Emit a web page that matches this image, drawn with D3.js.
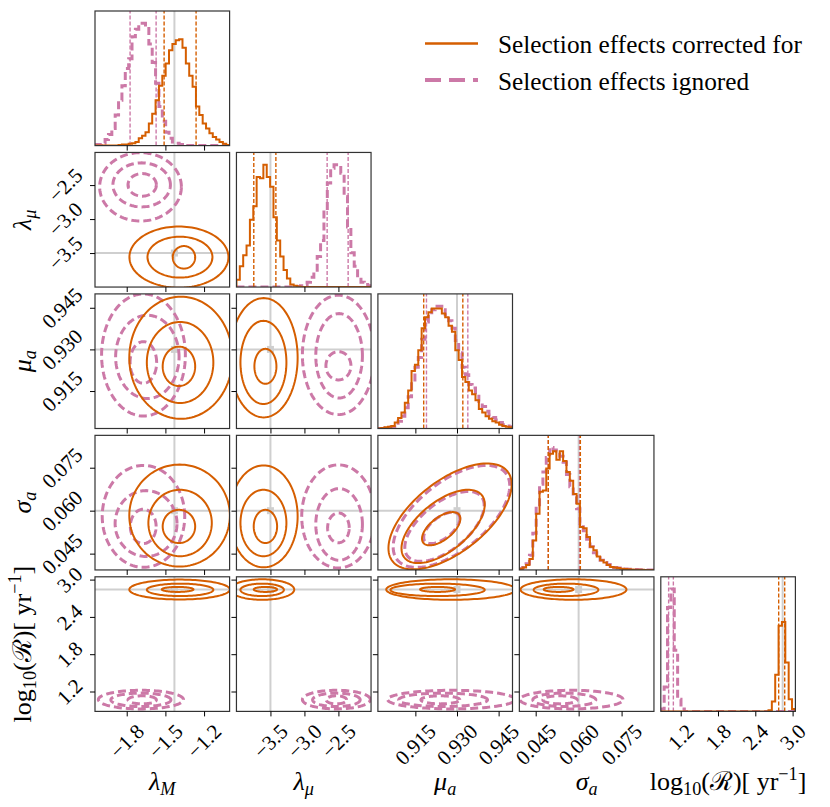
<!DOCTYPE html>
<html>
<head>
<meta charset="utf-8">
<script src="https://cdn.jsdelivr.net/npm/d3@7"></script>
<style>
  body { margin: 0; background: #fff; }
  svg { display: block; }
</style>
</head>
<body>
<svg id="chart" width="830" height="807"></svg>
<script>
// parameters: lambda_M, lambda_mu, mu_a, sigma_a, log10(R)
const paramDomains = [[-2.046, -1.002], [-4.0, -2.02], [0.9015, 0.950], [0.0393, 0.0863], [0.88, 3.045]];
const tickValues = [[-1.8, -1.5, -1.2], [-3.5, -3.0, -2.5], [0.915, 0.930, 0.945], [0.045, 0.060, 0.075], [1.2, 1.8, 2.4, 3.0]];
const tickFormats = [".1f", ".1f", ".3f", ".3f", ".1f"];
const truths = [-1.43, -3.5, 0.93, 0.06, 2.84];

// 1D posteriors, 40 bins over each axis range (heights)
const corrHist = [
  [0, 0, 0, 0, 0, 0, 0, 0.005, 0.01, 0.01, 0.015, 0.02, 0.03, 0.06, 0.08, 0.11, 0.18, 0.26, 0.37, 0.49,
   0.57, 0.67, 0.78, 0.83, 0.86, 0.87, 0.80, 0.67, 0.57, 0.48, 0.32, 0.25, 0.18, 0.14, 0.10, 0.07, 0.05, 0.03, 0.015, 0.005],
  [0.06, 0.17, 0.26, 0.34, 0.55, 0.66, 0.90, 0.89, 1.0, 0.90, 0.82, 0.57, 0.38, 0.25, 0.14, 0.07, 0.02, 0.01, 0.005, 0,
   0, 0, 0, 0, 0, 0, 0, 0, 0, 0, 0, 0, 0, 0, 0, 0, 0, 0, 0, 0],
  [0, 0.005, 0.01, 0.015, 0.02, 0.05, 0.085, 0.13, 0.21, 0.31, 0.47, 0.52, 0.64, 0.82, 0.91, 0.95, 0.98, 0.98, 0.98, 0.94,
   0.91, 0.84, 0.79, 0.64, 0.56, 0.42, 0.38, 0.31, 0.28, 0.23, 0.16, 0.13, 0.10, 0.08, 0.06, 0.05, 0.03, 0.02, 0.015, 0.01],
  [0.01, 0.02, 0.04, 0.09, 0.24, 0.46, 0.64, 0.65, 0.83, 0.95, 0.97, 0.90, 0.97, 0.89, 0.80, 0.73, 0.62, 0.54, 0.35, 0.34,
   0.27, 0.19, 0.16, 0.11, 0.08, 0.06, 0.04, 0.025, 0.02, 0.015, 0.01, 0.008, 0.005, 0.003, 0.002, 0.002, 0.001, 0, 0, 0],
  [0, 0, 0, 0, 0, 0, 0, 0, 0, 0, 0, 0, 0, 0, 0, 0, 0, 0, 0, 0,
   0, 0, 0, 0, 0, 0, 0, 0, 0, 0, 0, 0, 0.01, 0.08, 0.30, 0.70, 0.73, 0.40, 0.10, 0.02]
];
const ignHist = [
  [0.01, 0.01, 0.02, 0.05, 0.09, 0.14, 0.25, 0.37, 0.49, 0.63, 0.71, 0.89, 0.95, 1.0, 1.0, 0.97, 0.83, 0.68, 0.51, 0.32,
   0.20, 0.11, 0.06, 0.03, 0.02, 0.01, 0.005, 0, 0, 0, 0, 0, 0, 0, 0, 0, 0, 0, 0, 0],
  [0, 0, 0, 0, 0, 0, 0, 0, 0, 0, 0, 0, 0, 0, 0, 0, 0, 0, 0.005, 0.01,
   0.02, 0.04, 0.08, 0.12, 0.25, 0.38, 0.63, 0.85, 0.97, 1.0, 1.0, 0.93, 0.74, 0.49, 0.28, 0.17, 0.08, 0.04, 0.02, 0.01],
  [0, 0, 0.005, 0.01, 0.015, 0.03, 0.06, 0.10, 0.17, 0.26, 0.38, 0.50, 0.58, 0.73, 0.87, 0.93, 0.97, 1.0, 1.0, 0.97,
   0.93, 0.88, 0.82, 0.72, 0.62, 0.50, 0.44, 0.36, 0.33, 0.28, 0.22, 0.18, 0.14, 0.11, 0.09, 0.07, 0.05, 0.03, 0.02, 0.015],
  [0.01, 0.02, 0.05, 0.12, 0.30, 0.52, 0.70, 0.80, 0.92, 1.0, 0.98, 0.97, 0.93, 0.88, 0.78, 0.68, 0.60, 0.50, 0.38, 0.32,
   0.25, 0.19, 0.14, 0.10, 0.08, 0.06, 0.045, 0.03, 0.02, 0.015, 0.01, 0.008, 0.006, 0.004, 0.003, 0.002, 0.001, 0, 0, 0],
  [0.02, 0.20, 0.85, 1.0, 0.50, 0.10, 0.02, 0, 0, 0, 0, 0, 0, 0, 0, 0, 0, 0, 0, 0,
   0, 0, 0, 0, 0, 0, 0, 0, 0, 0, 0, 0, 0, 0, 0, 0, 0, 0, 0, 0]
];

// 16% / 84% quantiles
const corrQuantiles = [[-1.51, -1.262], [-3.745, -3.42], [0.918, 0.9321], [0.0494, 0.0606], [2.776, 2.873]];
const ignQuantiles = [[-1.774, -1.572], [-2.666, -2.357], [0.919, 0.9339], [0.0494, 0.0603], [1.006, 1.082]];

// 2D contours: [x param, y param, centre x, centre y, half-width x, half-width y], inner to outer
const corrContours = [
  [0, 1, -1.356, -3.563, 0.087, 0.166], [0, 1, -1.387, -3.560, 0.252, 0.301], [0, 1, -1.395, -3.560, 0.384, 0.450],
  [0, 2, -1.395, 0.9239, 0.126, 0.0071], [0, 2, -1.386, 0.9253, 0.258, 0.0146], [0, 2, -1.380, 0.9270, 0.400, 0.0220],
  [0, 3, -1.395, 0.0545, 0.126, 0.0058], [0, 3, -1.386, 0.0557, 0.246, 0.0116], [0, 3, -1.390, 0.0583, 0.390, 0.0178],
  [0, 4, -1.405, 2.842, 0.123, 0.040], [0, 4, -1.386, 2.835, 0.258, 0.100], [0, 4, -1.390, 2.840, 0.390, 0.160],
  [1, 2, -3.574, 0.9239, 0.162, 0.0063], [1, 2, -3.603, 0.9253, 0.338, 0.0150], [1, 2, -3.600, 0.9270, 0.500, 0.0215],
  [1, 3, -3.574, 0.0545, 0.172, 0.0058], [1, 3, -3.603, 0.0557, 0.338, 0.0116], [1, 3, -3.600, 0.0580, 0.500, 0.0178],
  [1, 4, -3.574, 2.842, 0.172, 0.040], [1, 4, -3.622, 2.835, 0.320, 0.100], [1, 4, -3.620, 2.840, 0.470, 0.165],
  [2, 3, 0.9243, 0.0537, 0.0069, 0.0058], [2, 3, 0.9250, 0.0545, 0.0150, 0.0128], [2, 3, 0.9275, 0.0580, 0.0222, 0.0185],
  [2, 4, 0.9230, 2.842, 0.0063, 0.040], [2, 4, 0.9230, 2.835, 0.0170, 0.100], [2, 4, 0.9278, 2.840, 0.0233, 0.165],
  [3, 4, 0.0530, 2.842, 0.0052, 0.040], [3, 4, 0.0556, 2.835, 0.0113, 0.100], [3, 4, 0.0582, 2.840, 0.0185, 0.165]
];
const ignContours = [
  [0, 1, -1.680, -2.497, 0.110, 0.166], [0, 1, -1.684, -2.497, 0.223, 0.324], [0, 1, -1.693, -2.526, 0.317, 0.503],
  [0, 2, -1.671, 0.9253, 0.103, 0.0075], [0, 2, -1.640, 0.9273, 0.246, 0.0150], [0, 2, -1.670, 0.9280, 0.325, 0.0220],
  [0, 3, -1.672, 0.0545, 0.100, 0.0060], [0, 3, -1.650, 0.0555, 0.240, 0.0115], [0, 3, -1.670, 0.0580, 0.320, 0.0178],
  [0, 4, -1.680, 1.066, 0.110, 0.065], [0, 4, -1.690, 1.066, 0.233, 0.108], [0, 4, -1.690, 1.070, 0.330, 0.150],
  [1, 2, -2.500, 0.9241, 0.184, 0.0051], [1, 2, -2.490, 0.9277, 0.343, 0.0152], [1, 2, -2.500, 0.9280, 0.530, 0.0215],
  [1, 3, -2.500, 0.0540, 0.159, 0.0052], [1, 3, -2.490, 0.0552, 0.343, 0.0125], [1, 3, -2.500, 0.0580, 0.540, 0.0180],
  [1, 4, -2.530, 1.066, 0.150, 0.065], [1, 4, -2.530, 1.066, 0.350, 0.108], [1, 4, -2.530, 1.070, 0.500, 0.150],
  [2, 3, 0.9245, 0.0540, 0.0065, 0.0055], [2, 3, 0.9255, 0.0545, 0.0143, 0.0122], [2, 3, 0.9280, 0.0580, 0.0210, 0.0178],
  [2, 4, 0.9240, 1.066, 0.0070, 0.065], [2, 4, 0.9250, 1.066, 0.0160, 0.108], [2, 4, 0.9280, 1.070, 0.0230, 0.150],
  [3, 4, 0.0535, 1.066, 0.0060, 0.065], [3, 4, 0.0550, 1.066, 0.0110, 0.108], [3, 4, 0.0575, 1.070, 0.0180, 0.150]
];
// correlation of the tilted pair (mu_a, sigma_a)
const pairRho = [[2, 3, 0.6]];

const legendLabels = ["Selection effects corrected for", "Selection effects ignored"];
// label pieces: [text, style]
const axisLabels = [
  [["λ", "i"], ["M", "isub"]],
  [["λ", "i"], ["μ", "isub"]],
  [["μ", "i"], ["a", "isub"]],
  [["σ", "i"], ["a", "isub"]],
  [["log", ""], ["10", "sub"], ["(ℛ)[ yr", ""], ["−1", "sup"], ["]", ""]]
];

const ORANGE = "#d55e00", PINK = "#cc79a7", GREY = "#cfcfcf";
const SERIF = "Liberation Serif";
const X0 = 95, Y0 = 11, STEP = 141.45, SIZE = 134.6;
const NB = 40;

const svg = d3.select("#chart");
const defs = svg.append("defs");

const xs = paramDomains.map((d, j) => d3.scaleLinear().domain(d).range([X0 + j * STEP, X0 + j * STEP + SIZE]));
const ys = paramDomains.map((d, i) => d3.scaleLinear().domain(d).range([Y0 + i * STEP + SIZE, Y0 + i * STEP]));

const styles = {
  corr: { color: ORANGE, width: 2, dash: null },
  ign: { color: PINK, width: 3, dash: "8,4" }
};

function rhoFor(j, i) {
  const r = pairRho.find(p => p[0] === j && p[1] === i);
  return r ? r[2] : 0;
}

function addText(sel) {
  return sel.append("text").attr("font-family", SERIF).attr("fill", "#000");
}

function drawHist(g, j) {
  const x = xs[j];
  const lo = paramDomains[j][0], hi = paramDomains[j][1];
  const edges = d3.range(NB + 1).map(k => lo + (hi - lo) * k / NB);
  const ymax = 1.1 * Math.max(d3.max(corrHist[j]), d3.max(ignHist[j]));
  const y = d3.scaleLinear().domain([0, ymax]).range([Y0 + j * STEP + SIZE, Y0 + j * STEP]);

  g.append("line")
    .attr("x1", x(truths[j])).attr("x2", x(truths[j]))
    .attr("y1", y.range()[0]).attr("y2", y.range()[1])
    .attr("stroke", GREY).attr("stroke-width", 2);

  const line = d3.line().x(d => x(d[0])).y(d => y(d[1])).curve(d3.curveStepAfter);
  [["ign", ignHist[j], ignQuantiles[j]], ["corr", corrHist[j], corrQuantiles[j]]].forEach(([key, h, q]) => {
    const st = styles[key];
    const pts = [[edges[0], 0]];
    h.forEach((v, k) => pts.push([edges[k], v]));
    pts.push([edges[NB], h[NB - 1]]);
    pts.push([edges[NB], 0]);
    g.append("path")
      .attr("d", line(pts))
      .attr("fill", "none")
      .attr("stroke", st.color)
      .attr("stroke-width", st.width)
      .attr("stroke-dasharray", st.dash);
    q.forEach(v => {
      g.append("line")
        .attr("x1", x(v)).attr("x2", x(v))
        .attr("y1", y.range()[0]).attr("y2", y.range()[1])
        .attr("stroke", st.color).attr("stroke-width", 1.4)
        .attr("stroke-dasharray", "4,2");
    });
  });
}

function drawPair(g, j, i) {
  const x = xs[j], y = ys[i];
  // truth lines and marker
  g.append("line").attr("x1", x(truths[j])).attr("x2", x(truths[j]))
    .attr("y1", y.range()[0]).attr("y2", y.range()[1])
    .attr("stroke", GREY).attr("stroke-width", 2);
  g.append("line").attr("y1", y(truths[i])).attr("y2", y(truths[i]))
    .attr("x1", x.range()[0]).attr("x2", x.range()[1])
    .attr("stroke", GREY).attr("stroke-width", 2);
  g.append("rect")
    .attr("x", x(truths[j]) - 3.5).attr("y", y(truths[i]) - 3.5)
    .attr("width", 7).attr("height", 7).attr("fill", GREY);

  const rho = rhoFor(j, i);
  const ts = d3.range(0, 2 * Math.PI, Math.PI / 60);
  const line = d3.line().curve(d3.curveLinearClosed);
  [["ign", ignContours], ["corr", corrContours]].forEach(([key, table]) => {
    const st = styles[key];
    table.filter(r => r[0] === j && r[1] === i).forEach(r => {
      const [, , cx, cy, sx, sy] = r;
      const pts = ts.map(t => [
        x(cx + sx * Math.cos(t)),
        y(cy + sy * (rho * Math.cos(t) + Math.sqrt(1 - rho * rho) * Math.sin(t)))
      ]);
      g.append("path")
        .attr("d", line(pts))
        .attr("fill", "none")
        .attr("stroke", st.color)
        .attr("stroke-width", st.width)
        .attr("stroke-dasharray", st.dash)
        .attr("stroke-linejoin", "round");
    });
  });
}

// rotated (45 deg) tick label, bounding box centred on the tick
function rotatedLabel(txt, pos, side, edge) {
  const fs = 21;
  const t = addText(svg)
    .attr("font-size", fs)
    .attr("text-anchor", "middle")
    .attr("dy", "0.35em")
    .text(txt);
  const L = t.node().getComputedTextLength();
  const E = (L + 0.7 * fs) / Math.SQRT2;
  let tx, ty;
  if (side === "bottom") { tx = pos; ty = edge + 11 + E / 2; }
  else { tx = edge - 11 - E / 2; ty = pos; }
  t.attr("transform", `translate(${tx},${ty}) rotate(-45)`);
}

function mathLabel(sel, pieces) {
  pieces.forEach(([txt, st]) => {
    const ts = sel.append("tspan").text(txt);
    if (st.includes("i")) ts.attr("font-style", "italic");
    if (st.includes("sub")) ts.attr("font-size", "0.7em").attr("baseline-shift", "-0.3em");
    if (st.includes("sup")) ts.attr("font-size", "0.7em").attr("baseline-shift", "0.55em");
  });
}

const N = paramDomains.length;
for (let i = 0; i < N; i++) {
  for (let j = 0; j <= i; j++) {
    const px = X0 + j * STEP, py = Y0 + i * STEP;
    const id = `clip-${i}-${j}`;
    defs.append("clipPath").attr("id", id)
      .append("rect").attr("x", px).attr("y", py).attr("width", SIZE).attr("height", SIZE);
    const g = svg.append("g");
    const plot = g.append("g").attr("clip-path", `url(#${id})`);
    if (i === j) drawHist(plot, j);
    else drawPair(plot, j, i);

    g.append("rect").attr("x", px).attr("y", py).attr("width", SIZE).attr("height", SIZE)
      .attr("fill", "none").attr("stroke", "#333").attr("stroke-width", 1.2);

    const ax = g.append("g").attr("transform", `translate(0,${py + SIZE})`)
      .call(d3.axisBottom(xs[j]).tickValues(tickValues[j]).tickSize(5).tickSizeOuter(0).tickFormat(""));
    ax.select(".domain").remove();
    if (i !== j) {
      const ay = g.append("g").attr("transform", `translate(${px},0)`)
        .call(d3.axisLeft(ys[i]).tickValues(tickValues[i]).tickSize(5).tickSizeOuter(0).tickFormat(""));
      ay.select(".domain").remove();
    }

    if (i === N - 1) {
      const f = d3.format(tickFormats[j]);
      tickValues[j].forEach(v => rotatedLabel(f(v), xs[j](v), "bottom", py + SIZE));
      const lab = addText(svg).attr("font-size", 26).attr("text-anchor", "middle")
        .attr("x", px + SIZE / 2).attr("y", 790);
      mathLabel(lab, axisLabels[j]);
    }
    if (j === 0 && i > 0) {
      const f = d3.format(tickFormats[i]);
      tickValues[i].forEach(v => rotatedLabel(f(v), ys[i](v), "left", px));
      const lab = addText(svg).attr("font-size", 26).attr("text-anchor", "middle")
        .attr("transform", `translate(31,${py + SIZE / 2}) rotate(-90)`);
      mathLabel(lab, axisLabels[i]);
    }
  }
}

// legend
const legend = svg.append("g");
const legendY = [43.5, 80];
legendLabels.forEach((lab, k) => {
  const st = k === 0 ? { color: ORANGE, width: 2.3, dash: null } : { color: PINK, width: 4, dash: "16,8" };
  legend.append("line")
    .attr("x1", 425).attr("x2", 478).attr("y1", legendY[k]).attr("y2", legendY[k])
    .attr("stroke", st.color).attr("stroke-width", st.width).attr("stroke-dasharray", st.dash);
});
const t0 = addText(legend).attr("x", 498).attr("y", 53).attr("font-size", 24).text(legendLabels[0]);
const fsLegend = 24 * 304 / t0.node().getComputedTextLength();
t0.attr("font-size", fsLegend);
addText(legend).attr("x", 498).attr("y", 90).attr("font-size", fsLegend).text(legendLabels[1]);
</script>
</body>
</html>
